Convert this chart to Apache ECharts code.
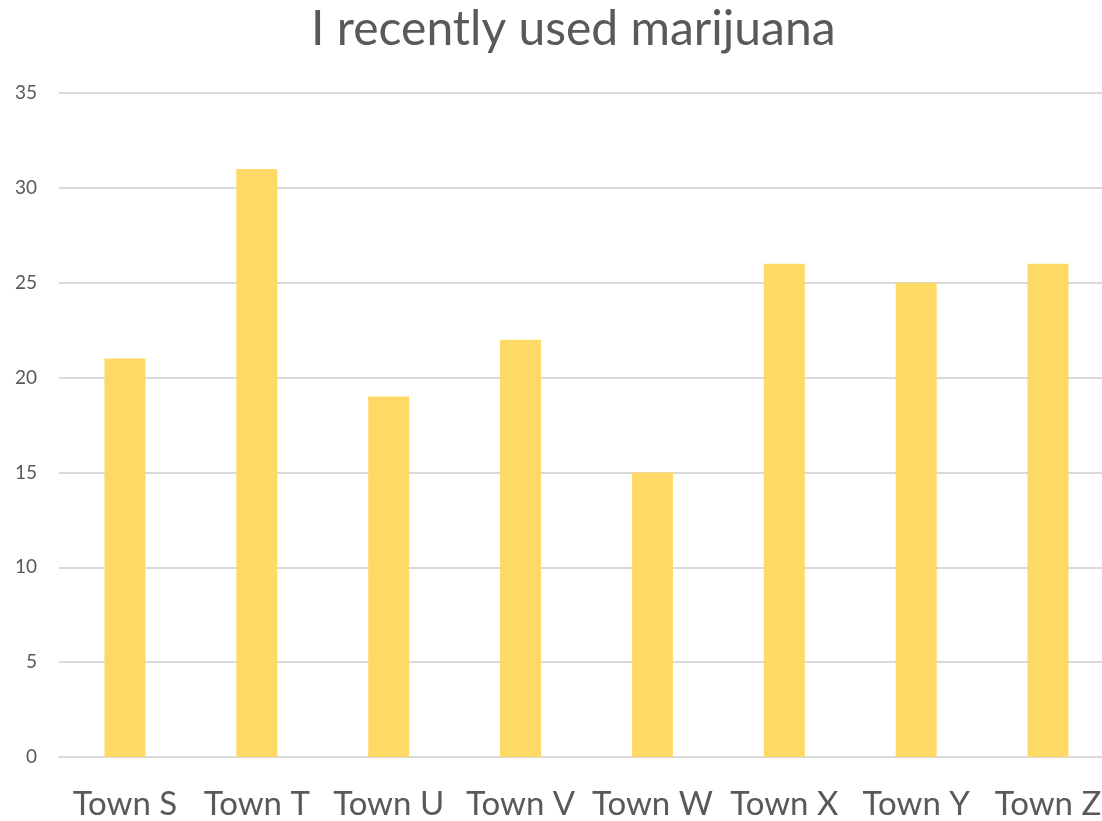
<!DOCTYPE html>
<html>
<head>
<meta charset="utf-8">
<script src="https://cdn.jsdelivr.net/npm/echarts@6/dist/echarts.min.js"></script>
<style>
html,body{margin:0;padding:0;background:#fff;overflow:hidden;width:1102px;height:821px;}
#chart{width:1114px;height:821px;}
</style>
</head>
<body>
<div id="chart"></div>
<script>
const titleText = "I recently used marijuana";
const categories = ["Town S","Town T","Town U","Town V","Town W","Town X","Town Y","Town Z"];
const values = [21, 31, 19, 22, 15, 26, 25, 26];
const yTicks = {min: 0, max: 35, interval: 5};

const chart = echarts.init(document.getElementById('chart'), null, {renderer: 'canvas'});
chart.setOption({
  animation: false,
  backgroundColor: '#ffffff',
  title: {
    text: titleText,
    left: 306,
    top: 1,
    textStyle: {fontFamily: 'Lato', fontSize: 48, fontWeight: 'normal', color: '#595959'}
  },
  grid: {left: 59, right: 0, top: 93, bottom: 63, containLabel: false},
  xAxis: {
    type: 'category',
    data: categories,
    axisLine: {show: true, lineStyle: {color: '#d9d9d9', width: 2}},
    axisTick: {show: false},
    axisLabel: {interval: 0, fontFamily: 'Lato', fontSize: 33, color: '#595959', margin: 31}
  },
  yAxis: {
    type: 'value',
    min: yTicks.min, max: yTicks.max, interval: yTicks.interval,
    axisLine: {show: false},
    axisTick: {show: false},
    axisLabel: {fontFamily: 'Lato', fontSize: 19, color: '#595959', margin: 22},
    splitLine: {lineStyle: {color: '#d9d9d9', width: 2}}
  },
  series: [{
    type: 'bar',
    data: values,
    barWidth: 41,
    itemStyle: {color: '#FFD966'}
  }]
});
</script>
</body>
</html>
